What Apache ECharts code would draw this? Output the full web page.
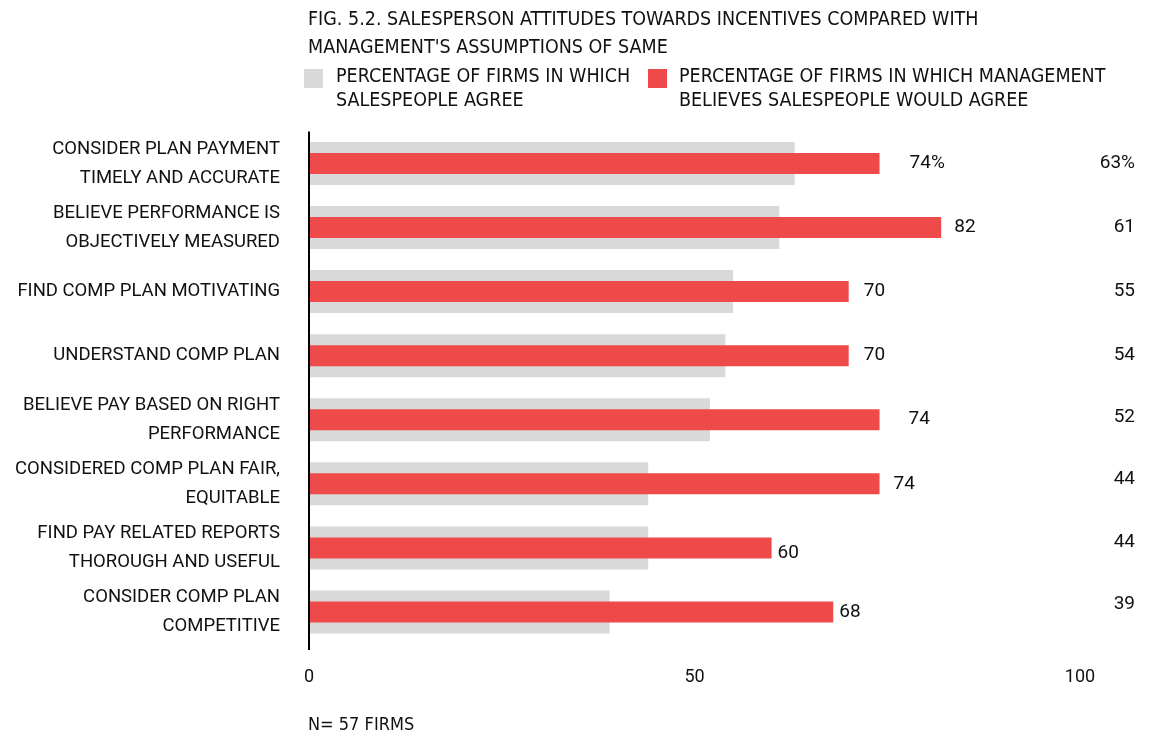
<!DOCTYPE html>
<html>
<head>
<meta charset="utf-8">
<title>Fig. 5.2 Salesperson attitudes towards incentives</title>
<script src="https://cdn.jsdelivr.net/npm/echarts@6/dist/echarts.min.js"></script>
<style>
  html, body { margin: 0; padding: 0; background: #ffffff; }
  #chart { width: 1166px; height: 737px; }
</style>
</head>
<body>
<div id="chart"></div>
<script>
// ---- data ----
const titleLines = [
  'FIG. 5.2. SALESPERSON ATTITUDES TOWARDS INCENTIVES COMPARED WITH',
  "MANAGEMENT'S ASSUMPTIONS OF SAME"
];
const seriesNames = [
  'PERCENTAGE OF FIRMS IN WHICH\nSALESPEOPLE AGREE',
  'PERCENTAGE OF FIRMS IN WHICH MANAGEMENT\nBELIEVES SALESPEOPLE WOULD AGREE'
];
const categories = [
  'CONSIDER PLAN PAYMENT\nTIMELY AND ACCURATE',
  'BELIEVE PERFORMANCE IS\nOBJECTIVELY MEASURED',
  'FIND COMP PLAN MOTIVATING',
  'UNDERSTAND COMP PLAN',
  'BELIEVE PAY BASED ON RIGHT\nPERFORMANCE',
  'CONSIDERED COMP PLAN FAIR,\nEQUITABLE',
  'FIND PAY RELATED REPORTS\nTHOROUGH AND USEFUL',
  'CONSIDER COMP PLAN\nCOMPETITIVE'
];
const salespeopleAgree = [63, 61, 55, 54, 52, 44, 44, 39];
const managementBelieves = [74, 82, 70, 70, 74, 74, 60, 68];
const xTicks = [0, 50, 100];
const footnote = 'N= 57 FIRMS';

// ---- label layout (horizontal gap, vertical nudge) ----
const redLabelGap = [30, 13, 15, 15, 29, 14, 6, 6];
const redLabelDy = [0, 0, 0, 0, 0, 0, 5, 0];
const rightLabelDy = [0, 0, 0, 0, -2, -5, -6, -8];

// ---- styles ----
const RED = '#EF4A4A';
const GRAY = '#D9D9D9';
const INK = '#111111';
const CONDENSED = "'Liberation Sans Narrow', 'DejaVu Sans Condensed', 'Arial Narrow', Roboto, sans-serif";
const BODY = "Roboto, 'Noto Sans', sans-serif";

const pct = (v, i) => (i === 0 ? v + '%' : String(v));

// rich styles used to nudge the right-hand labels vertically
const rightRich = {};
rightLabelDy.forEach((dy, i) => {
  rightRich['r' + i] = {
    fontFamily: BODY, fontSize: 19, color: INK,
    padding: dy < 0 ? [0, 0, -2 * dy, 0] : [2 * dy, 0, 0, 0]
  };
});

const chart = echarts.init(document.getElementById('chart'), null, { renderer: 'canvas' });

const option = {
  backgroundColor: '#ffffff',
  animation: false,
  grid: { left: 309, right: 86, top: 131.4, bottom: 93, containLabel: false },
  xAxis: {
    type: 'value',
    min: xTicks[0],
    max: xTicks[xTicks.length - 1],
    interval: xTicks[1] - xTicks[0],
    axisLine: { show: false },
    axisTick: { show: false },
    splitLine: { show: false },
    axisLabel: {
      margin: 24,
      fontFamily: BODY, fontSize: 18, color: INK
    }
  },
  yAxis: [
    {
      // category names on the left; carries the management series
      type: 'category',
      data: categories,
      inverse: true,
      axisLine: { show: false },
      axisTick: { show: false },
      axisLabel: {
        margin: 29,
        fontFamily: BODY, fontSize: 18.5, color: INK,
        lineHeight: 29, align: 'right'
      }
    },
    {
      // salespeople values on the right; carries the salespeople series
      type: 'category',
      data: categories,
      inverse: true,
      position: 'right',
      axisLine: { show: false },
      axisTick: { show: false },
      axisLabel: {
        margin: 55,
        align: 'right',
        formatter: (val, i) => '{r' + i + '|' + pct(salespeopleAgree[i], i) + '}',
        rich: rightRich
      }
    }
  ],
  series: [
    {
      name: seriesNames[0],
      type: 'bar',
      yAxisIndex: 1,
      data: salespeopleAgree,
      barWidth: 43,
      itemStyle: { color: GRAY },
      silent: true,
      z: 1
    },
    {
      name: seriesNames[1],
      type: 'bar',
      yAxisIndex: 0,
      data: managementBelieves.map((v, i) => ({
        value: v,
        label: { distance: redLabelGap[i], offset: [0, redLabelDy[i]] }
      })),
      barWidth: 21,
      itemStyle: { color: RED },
      silent: true,
      z: 2,
      label: {
        show: true,
        position: 'right',
        fontFamily: BODY, fontSize: 19, color: INK,
        formatter: (p) => pct(p.value, p.dataIndex)
      }
    }
  ],
  graphic: [
    // vertical axis rule
    {
      type: 'line',
      shape: { x1: 309, y1: 131.5, x2: 309, y2: 650 },
      style: { stroke: '#000000', lineWidth: 2 },
      z: 10
    },
    // title
    {
      type: 'text', left: 308, top: 6,
      style: {
        text: titleLines.join('\n'),
        font: '19.5px ' + CONDENSED, fill: INK, lineHeight: 28
      }
    },
    // legend
    {
      type: 'rect', shape: { x: 304, y: 69, width: 19, height: 19 },
      style: { fill: GRAY }
    },
    {
      type: 'text', left: 336, top: 65,
      style: {
        text: seriesNames[0],
        font: '19.5px ' + CONDENSED, fill: INK, lineHeight: 24
      }
    },
    {
      type: 'rect', shape: { x: 648, y: 69, width: 19, height: 19 },
      style: { fill: RED }
    },
    {
      type: 'text', left: 679, top: 65,
      style: {
        text: seriesNames[1],
        font: '19.5px ' + CONDENSED, fill: INK, lineHeight: 24
      }
    },
    // footnote
    {
      type: 'text', left: 308, top: 716,
      style: { text: footnote, font: '18px ' + CONDENSED, fill: INK }
    }
  ]
};

chart.setOption(option);
</script>
</body>
</html>
